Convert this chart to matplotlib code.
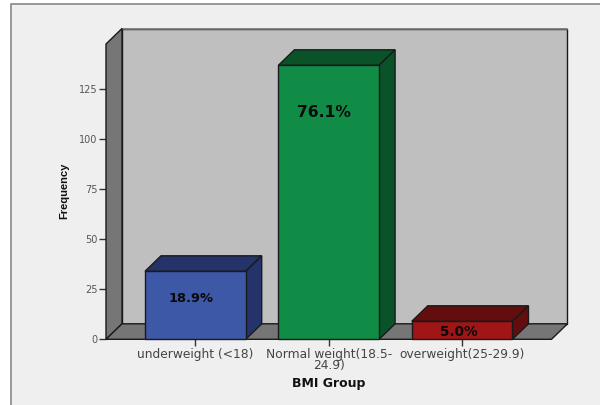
import matplotlib
matplotlib.use("Agg")
import matplotlib.pyplot as plt
from matplotlib.patches import Polygon, Rectangle
from matplotlib.lines import Line2D

plt.rcParams['font.family'] = ['Liberation Sans', 'DejaVu Sans']

categories = ['underweight (<18)', 'Normal weight(18.5-\n24.9)', 'overweight(25-29.9)']
counts = [34, 137, 9]
percent_labels = ['18.9%', '76.1%', '5.0%']
face_colors = ['#3e58a8', '#108c47', '#a01515']
shade_colors = ['#25336b', '#0a5228', '#630d0f']
y_ticks = [0, 25, 50, 75, 100, 125]
x_label = 'BMI Group'
y_label = 'Frequency'

W, H = 600, 405
fig = plt.figure(figsize=(W / 100, H / 100), dpi=100, facecolor='white')

# Light panel with a grey rule along its top and left sides
fig.add_artist(Rectangle((10 / W, 0), 590 / W, 1 - 3 / H, transform=fig.transFigure,
                         facecolor='#efefef', edgecolor='none', zorder=-2))
fig.add_artist(Line2D([10.5 / W, 10.5 / W, 1], [0, 1 - 3.5 / H, 1 - 3.5 / H],
                      transform=fig.transFigure, color='#8a8a8a', lw=1.2, zorder=-1))

# Axes cover the front plane of the 3D box
left, right, base, top = 106, 551.5, 339.3, 44
PX_PER_UNIT = 2.0
ax = fig.add_axes([left / W, 1 - base / H, (right - left) / W, (base - top) / H])
ax.set_xlim(-0.67, 2.67)
ax.set_ylim(0, (base - top) / PX_PER_UNIT)
ax.patch.set_visible(False)

DX = 16 / 133.5            # box depth, horizontal, in category units
DY = 15.5 / PX_PER_UNIT    # box depth, vertical, in frequency units
x0, x1 = ax.get_xlim()
y1 = ax.get_ylim()[1]
EDGE = '#1a1a1a'
WALL = '#bfbfbf'
SIDE = '#767676'


def poly(points, color, z, edge=EDGE, lw=1.0):
    ax.add_patch(Polygon(points, closed=True, facecolor=color, edgecolor=edge,
                         linewidth=lw, zorder=z, clip_on=False, joinstyle='miter'))


# Back wall, left wall and floor
poly([(x0 + DX, DY), (x1 + DX, DY), (x1 + DX, y1 + DY), (x0 + DX, y1 + DY)], WALL, 1)
ax.plot([x0 + DX, x1 + DX], [y1 + DY, y1 + DY], color='#777777', lw=1.2, zorder=1.5, clip_on=False)
poly([(x0, 0), (x0 + DX, DY), (x0 + DX, y1 + DY), (x0, y1)], SIDE, 2)
poly([(x0, 0), (x1, 0), (x1 + DX, DY), (x0 + DX, DY)], SIDE, 2)

# Bars: front face from ax.bar, top and side faces from the same values
positions = range(len(categories))
width = 0.755
for pos, value, face, shade in zip(positions, counts, face_colors, shade_colors):
    a, b = pos - width / 2, pos + width / 2
    poly([(a, value), (b, value), (b + DX, value + DY), (a + DX, value + DY)], shade, 3)
    poly([(b, 0), (b + DX, DY), (b + DX, value + DY), (b, value)], shade, 3)
    ax.bar(pos, value, width=width, color=face, edgecolor=EDGE, linewidth=1.0, zorder=4, clip_on=False)

# Percentage labels sit at fixed offsets on each front face
label_heights = [20.5, 113.5, 3.7]
label_shift = [-0.035, -0.035, -0.026]
label_sizes = [9.4, 11.2, 9.8]
for pos, pct, h, s, size in zip(positions, percent_labels, label_heights, label_shift, label_sizes):
    ax.text(pos + s, h, pct, ha='center', va='center', fontsize=size, fontweight='bold',
            family='DejaVu Sans', color='#0a0a0a', zorder=5)

for side in ['top', 'right', 'left', 'bottom']:
    ax.spines[side].set_visible(False)

ax.set_yticks(y_ticks)
ax.set_yticklabels([str(t) for t in y_ticks], family='DejaVu Sans')
ax.tick_params(axis='y', length=5, width=1, color='#333333', labelcolor='#555555', labelsize=7, pad=1)
ax.set_xticks(list(positions))
ax.set_xticklabels(categories, linespacing=0.8, family='DejaVu Sans')
ax.tick_params(axis='x', length=5, width=1, color='#333333', labelcolor='#444444', labelsize=8.8, pad=1.5)

fig.text(64.5 / W, 1 - 191 / H, y_label, rotation=90, ha='center', va='center',
         fontsize=8, fontweight='bold', color='#111111')
fig.text(328.5 / W, 1 - 384 / H, x_label, ha='center', va='center',
         fontsize=9, fontweight='bold', family='DejaVu Sans', color='#111111')

fig.savefig('out.png', dpi=100, facecolor=fig.get_facecolor())
